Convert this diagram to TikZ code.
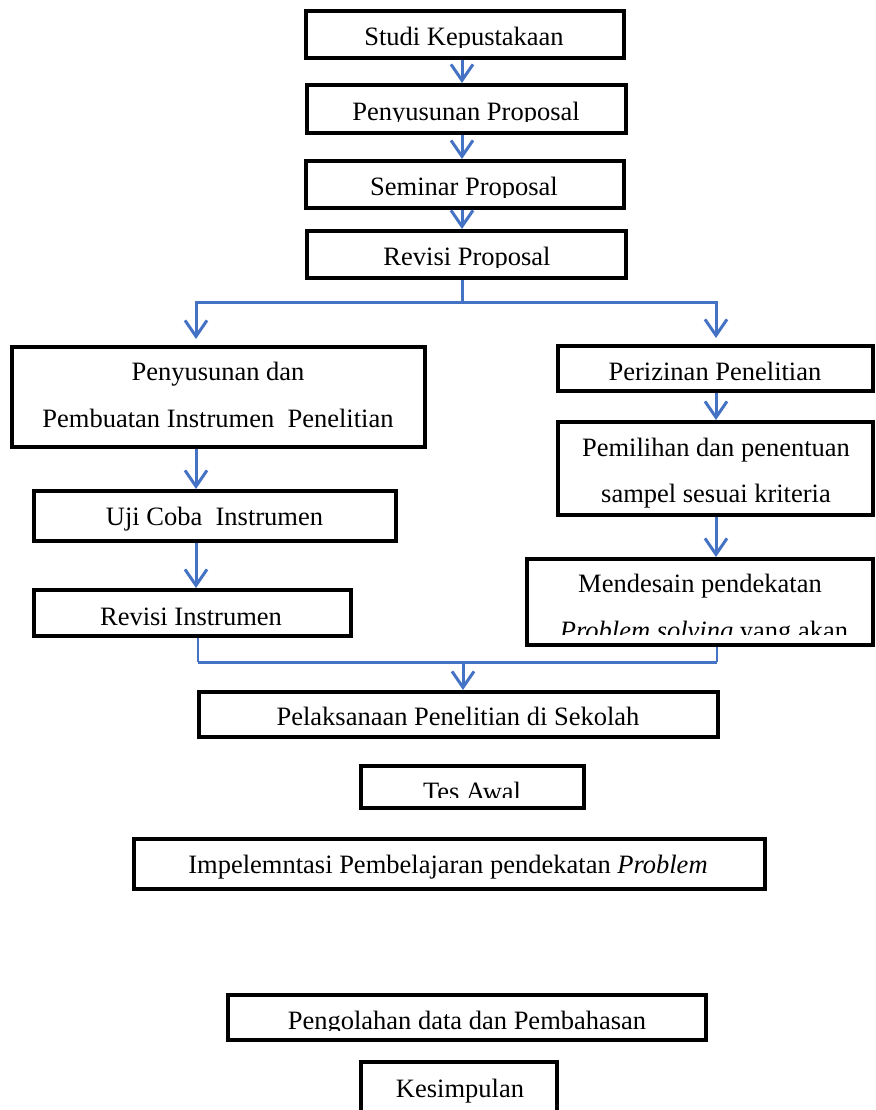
\documentclass[tikz,border=0pt]{standalone}
\usepackage{fontspec}
\setmainfont{Liberation Serif}
\usetikzlibrary{arrows.meta}
\definecolor{flowblue}{RGB}{68,114,196}

\begin{document}
\begin{tikzpicture}[x=0.5pt,y=-0.5pt]
                        \tikzset{Box/.style={%
                                shape=rectangle,%
                                draw=black,%
                                line width=2pt,%
                                inner sep=0pt,%
                            },
                            Label/.style={%
                                anchor=base,%
                                inner sep=0pt,%
                                font=\fontsize{13.25pt}{16pt}\selectfont,%
                            },
                            Flow/.style={%
                                draw=flowblue,%
                                line width=1.5pt,%
                                -{Straight Barb[length=8pt,width=11pt]},%
                            },
                            Bus/.style={draw=flowblue, line width=1.5pt},
                            Feed/.style={draw=flowblue, line width=0.6pt}}

                            \useasboundingbox (0,0) rectangle (876,1110);

                            % boxes
                            \node[Box, minimum width=159pt, minimum height=23.5pt] (studi) at (465,34.5) {};
                            \node[Box, minimum width=159.5pt, minimum height=24pt] (prop) at (466.5,109) {};
                            \node[Box, minimum width=159pt, minimum height=23.5pt] (sem) at (465,184.5) {};
                            \node[Box, minimum width=159.5pt, minimum height=23.5pt] (rev) at (466.5,254.5) {};
                            \node[Box, minimum width=206.5pt, minimum height=50pt] (instr) at (218.5,397) {};
                            \node[Box, minimum width=157.5pt, minimum height=22.5pt] (izin) at (715.5,368.5) {};
                            \node[Box, minimum width=157.5pt, minimum height=46.5pt] (sampel) at (715.5,468.5) {};
                            \node[Box, minimum width=173pt, minimum height=43pt] (desain) at (700,602) {};
                            \node[Box, minimum width=181pt, minimum height=25pt] (uji) at (215,516) {};
                            \node[Box, minimum width=158.5pt, minimum height=23pt] (revi) at (192.5,613) {};
                            \node[Box, minimum width=259.5pt, minimum height=22.5pt] (laks) at (458.5,714.5) {};
                            \node[Box, minimum width=111.5pt, minimum height=21pt] (tes) at (472.5,787) {};
                            \node[Box, minimum width=315.5pt, minimum height=25pt] (impl) at (449.5,864) {};
                            \node[Box, minimum width=239pt, minimum height=22.5pt] (olah) at (467,1017.5) {};
                            \node[Box, minimum width=98pt, minimum height=34pt] (simpul) at (459,1096) {};

                            % texts, cut off at the bottom where the boxes are too low
                            \begin{scope}
                                \clip (306,11) rectangle (624,47);
                                \node[Label] (studiT) at (464,45) {Studi Kepustakaan};
                            \end{scope}
                            \begin{scope}
                                \clip (307,85) rectangle (626,121);
                                \node[Label] (propT) at (466,120) {Penyusunan Proposal};
                            \end{scope}
                            \begin{scope}
                                \clip (306,161) rectangle (624,197);
                                \node[Label] (semT) at (464,195) {Seminar Proposal};
                            \end{scope}
                            \begin{scope}
                                \clip (307,231) rectangle (626,267);
                                \node[Label] (revT) at (467,265) {Revisi Proposal};
                            \end{scope}
                            \node[Label] (instrA) at (218,380) {Penyusunan dan};
                            \node[Label] (instrB) at (218,427) {Pembuatan Instrumen~ Penelitian};
                            \node[Label] (izinT) at (715,380) {Perizinan Penelitian};
                            \node[Label] (sampelA) at (716,456) {Pemilihan dan penentuan};
                            \node[Label] (sampelB) at (716,502) {sampel sesuai kriteria};
                            \node[Label] (desainA) at (700,592) {Mendesain pendekatan};
                            \begin{scope}
                                \clip (527,600) rectangle (873,634);
                                \node[Label] (desainB) at (704,639) {\textit{Problem solving} yang akan};
                            \end{scope}
                            \node[Label] (ujiT) at (214.5,525) {Uji Coba~ Instrumen};
                            \node[Label] (reviT) at (191,625) {Revisi Instrumen};
                            \node[Label] (laksT) at (458,725) {Pelaksanaan Penelitian di Sekolah};
                            \begin{scope}
                                \clip (361,766) rectangle (584,797);
                                \node[Label] (tesT) at (472,800) {Tes Awal};
                            \end{scope}
                            \node[Label] (implT) at (448,873) {Impelemntasi Pembelajaran pendekatan \textit{Problem}};
                            \begin{scope}
                                \clip (228,995) rectangle (706,1030);
                                \node[Label] (olahT) at (467,1029) {Pengolahan data dan Pembahasan};
                            \end{scope}
                            \node[Label] (simpulT) at (460,1097) {Kesimpulan};

                            % connectors
                            \coordinate (mx) at (462,0);
                            \coordinate (lx) at (196,0);
                            \coordinate (rx) at (716,0);
                            \coordinate (split) at (462,302);
                            \coordinate (mleft) at (198,662);
                            \coordinate (mright) at (717,662);
                            \coordinate (merge) at (463,662);

                            \draw[Flow] (mx |- studi.south) -- (mx |- prop.north);
                            \draw[Flow] (mx |- prop.south) -- (mx |- sem.north);
                            \draw[Flow] (mx |- sem.south) -- (mx |- rev.north);
                            \draw[Bus] (mx |- rev.south) -- (split);
                            \draw[Flow, shorten >=3pt] (split) -| (lx |- instr.north);
                            \draw[Flow, shorten >=3pt] (split) -| (rx |- izin.north);
                            \draw[Flow] (lx |- instr.south) -- (lx |- uji.north);
                            \draw[Flow] (lx |- uji.south) -- (lx |- revi.north);
                            \draw[Flow] (rx |- izin.south) -- (rx |- sampel.north);
                            \draw[Flow] (rx |- sampel.south) -- (rx |- desain.north);
                            \draw[Feed] (mleft |- revi.south) -- (mleft);
                            \draw[Feed] (mright |- desain.south) -- (mright);
                            \draw[Bus] (mleft) -- (mright);
                            \draw[Flow] (merge) -- (merge |- laks.north);
\end{tikzpicture}
\end{document}
